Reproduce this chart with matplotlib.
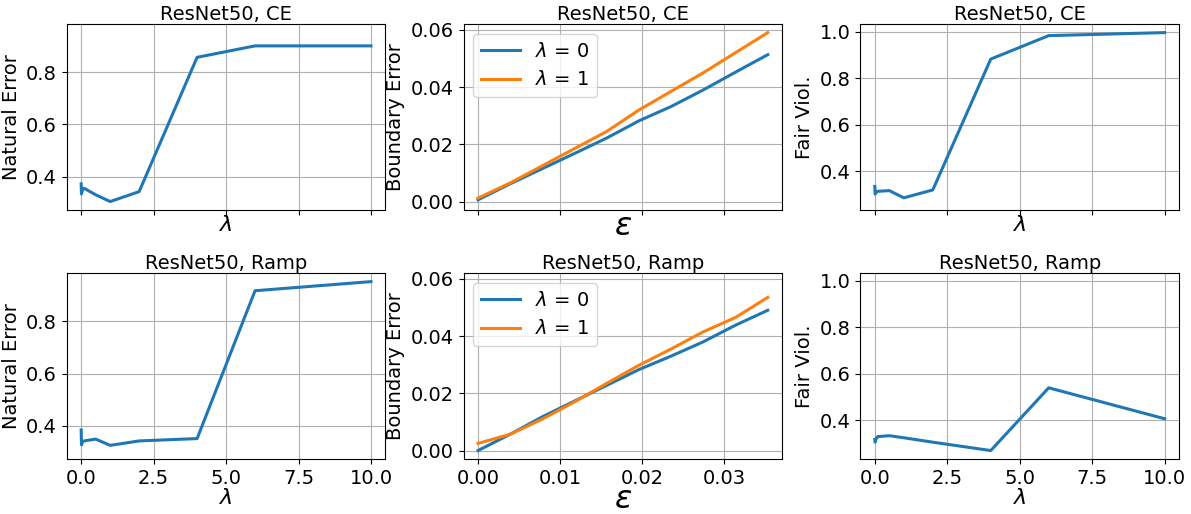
import matplotlib
matplotlib.use("Agg")
import matplotlib.pyplot as plt

# lambda grid used for the left / right columns
lambdas = [0, 0.01, 0.05, 0.1, 0.5, 1, 2, 4, 6, 10]
# epsilon grid (k/255) for the middle column
eps = [0.0, 0.00392, 0.00784, 0.01176, 0.01569, 0.01961, 0.02353, 0.02745, 0.03137, 0.03529]

nat_err_ce = [0.372, 0.333, 0.350, 0.355, 0.330, 0.304, 0.342, 0.858, 0.902, 0.902]
nat_err_ramp = [0.383, 0.326, 0.338, 0.341, 0.348, 0.324, 0.341, 0.350, 0.918, 0.953]
fair_ce = [0.335, 0.302, 0.310, 0.314, 0.317, 0.286, 0.320, 0.883, 0.984, 0.997]
fair_ramp = [0.318, 0.306, 0.322, 0.330, 0.334, 0.325, 0.306, 0.270, 0.540, 0.407]

bnd_ce_l0 = [0.0006, 0.0062, 0.0115, 0.0168, 0.0222, 0.0282, 0.0332, 0.0390, 0.0452, 0.0513]
bnd_ce_l1 = [0.0012, 0.0065, 0.0125, 0.0185, 0.0245, 0.0320, 0.0385, 0.0450, 0.0520, 0.0590]
bnd_ramp_l0 = [0.0000, 0.0057, 0.0118, 0.0173, 0.0228, 0.0283, 0.0330, 0.0380, 0.0438, 0.0490]
bnd_ramp_l1 = [0.0025, 0.0057, 0.0110, 0.0170, 0.0235, 0.0298, 0.0355, 0.0415, 0.0465, 0.0535]

plt.rcParams["font.size"] = 14

fig, axes = plt.subplots(2, 3, figsize=(11.91, 5.14), dpi=100, sharex="col", sharey="col")

rows = [("CE", nat_err_ce, fair_ce, bnd_ce_l0, bnd_ce_l1),
        ("Ramp", nat_err_ramp, fair_ramp, bnd_ramp_l0, bnd_ramp_l1)]

for r, (loss, nat, fair, b0, b1) in enumerate(rows):
    ax = axes[r, 0]
    ax.plot(lambdas, nat, linewidth=2.2)
    ax.set_ylabel("Natural Error")
    ax.set_xlabel(r"$\lambda$", fontsize=16, labelpad=0)

    ax = axes[r, 1]
    ax.plot(eps, b0, linewidth=2.2, label=r"$\lambda$ = 0")
    ax.plot(eps, b1, linewidth=2.2, label=r"$\lambda$ = 1")
    ax.set_ylabel("Boundary Error")
    ax.set_xlabel(r"$\epsilon$", fontsize=23, labelpad=-3)
    ax.legend(loc="upper left")

    ax = axes[r, 2]
    ax.plot(lambdas, fair, linewidth=2.2)
    ax.set_ylabel("Fair Viol.")
    ax.set_xlabel(r"$\lambda$", fontsize=16, labelpad=0)

    for ax in axes[r]:
        ax.set_title("ResNet50, " + loss, fontsize=14, pad=3)
        ax.grid(True)

fig.subplots_adjust(left=0.056, right=0.99, top=0.953, bottom=0.107, wspace=0.245, hspace=0.34)
fig.savefig("out.png", dpi=100)
